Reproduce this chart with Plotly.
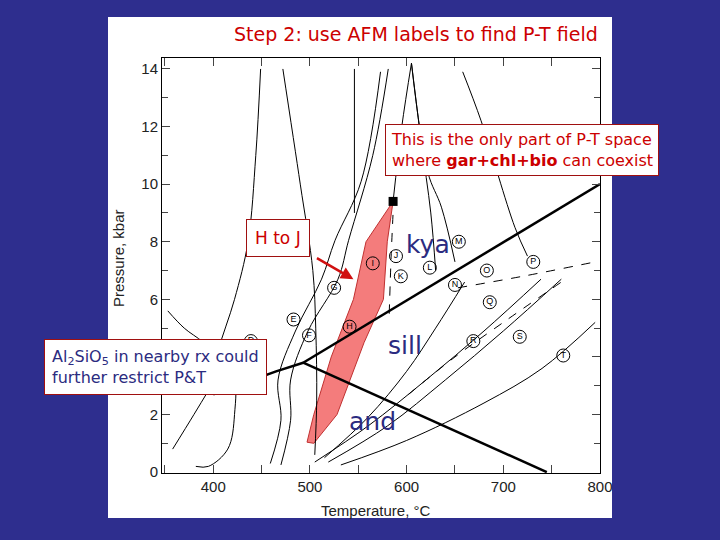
import plotly.graph_objects as go

# Red field (gar+chl+bio)
field_T = [497, 504, 522, 545, 558, 586, 580, 576, 556, 528, 504, 497]
field_P = [1.04, 2.0, 4.0, 6.0, 8.0, 9.4, 8.0, 6.0, 4.5, 2.0, 1.0, 1.04]

# Al2SiO5 lines
ky_sill_T = [493, 800]; ky_sill_P = [3.8, 10.0]
and_sill_T = [493, 745]; and_sill_P = [3.8, 0.0]
ky_and_T = [400, 465, 493]; ky_and_P = [2.7, 3.5, 3.8]

# Thin reaction curves (T list, P list)
curves = [
    ([449, 444, 436, 422, 405, 398], [14, 11, 8, 6, 4.2, 3.0]),
    ([398, 380, 358], [3.0, 2.0, 0.8]),
    ([353, 370, 390, 420, 422, 415, 395, 382], [5.6, 5.0, 4.5, 3.5, 2.0, 0.8, 0.2, 0.2]),
    ([472, 490, 503, 506, 507, 505], [14, 10, 7, 5, 2.5, 0.6]),
    ([459, 470, 467, 485, 512, 526, 553, 573], [0.3, 1.8, 3.2, 4.9, 6.7, 8.05, 10.1, 13.9]),
    ([470, 480, 480, 498, 529, 540, 565, 581], [0.25, 1.8, 3.2, 4.9, 6.7, 8.05, 11, 14]),
    ([605, 595, 586], [14.2, 12.0, 9.4]),
    ([546, 546], [14, 9.0]),
    ([605, 622, 636, 650], [14.2, 10.4, 9.2, 7.3]),
    ([605, 615, 625, 630], [14.2, 11.5, 9.0, 7.0]),
    ([658, 677, 712, 725], [13.9, 12.2, 8.5, 7.5]),
    ([505, 560, 620, 680, 739], [0.35, 1.6, 3.2, 4.9, 6.7]),
    ([519, 580, 640, 700, 760], [0.35, 1.6, 3.2, 4.9, 6.7]),
    ([532, 600, 680, 740, 795], [0.25, 1.1, 2.4, 3.6, 5.2]),
    ([515, 560, 600, 630, 660], [0.5, 1.9, 3.5, 5.0, 6.6]),
]
dashed = [
    ([653, 720, 795], [6.4, 6.8, 7.3]),
    ([602, 650, 700, 760], [2.7, 4.0, 5.2, 6.6]),
    ([582, 584, 586], [5.5, 7.5, 9.0]),
]

# Circled field letters
letters = ["D", "E", "F", "G", "H", "I", "J", "K", "L", "M", "N", "O", "P", "Q", "R", "S", "T"]
letter_T = [439, 483, 499, 525, 541, 565, 589, 594, 624, 654, 650, 683, 731, 686, 669, 717, 762]
letter_P = [4.55, 5.3, 4.75, 6.4, 5.05, 7.25, 7.5, 6.8, 7.1, 8.0, 6.5, 7.0, 7.3, 5.9, 4.55, 4.7, 4.05]

x_ticks = [400, 500, 600, 700, 800]
y_ticks = [0, 2, 4, 6, 8, 10, 12, 14]

L, R, T, B = 162, 600, 58, 473
def px(x): return (x - L) / (R - L)
def py(y): return (B - y) / (B - T)

fig = go.Figure()
fig.add_trace(go.Scatter(x=field_T, y=field_P, fill="toself", fillcolor="#f47c7c",
                         line=dict(color="#c03030", width=1), mode="lines", hoverinfo="skip"))
for xs, ys in curves:
    fig.add_trace(go.Scatter(x=xs, y=ys, mode="lines", line=dict(color="black", width=1, shape="spline")))
for xs, ys in dashed:
    fig.add_trace(go.Scatter(x=xs, y=ys, mode="lines", line=dict(color="black", width=1, dash="dash", shape="spline")))
for xs, ys in [(ky_sill_T, ky_sill_P), (and_sill_T, and_sill_P), (ky_and_T, ky_and_P)]:
    fig.add_trace(go.Scatter(x=xs, y=ys, mode="lines", line=dict(color="black", width=2.5)))
fig.add_trace(go.Scatter(x=letter_T, y=letter_P, mode="markers+text", text=letters,
                         textposition="middle center",
                         textfont=dict(size=9, color="black", family="Liberation Sans"),
                         marker=dict(size=13, color="rgba(255,255,255,0)", line=dict(color="black", width=1))))
fig.add_trace(go.Scatter(x=[586], y=[9.4], mode="markers",
                         marker=dict(symbol="square", size=9, color="black")))

ann = []
navy = "#2b2b80"
red = "#cc0000"
for txt, T_, P_ in [("kya", 622, 7.9), ("sill", 598, 4.4), ("and", 565, 1.75)]:
    ann.append(dict(x=T_, y=P_, xref="x", yref="y", text=txt, showarrow=False,
                    font=dict(size=25, color=navy, family="DejaVu Sans")))
ann.append(dict(x=px(416), y=py(34), xref="paper", yref="paper", text="Step 2: use AFM labels to find P-T field",
                showarrow=False, font=dict(size=19, color=red, family="DejaVu Sans")))
ann.append(dict(x=px(522), y=py(150), xref="paper", yref="paper",
                text="This is the only part of P-T space<br>where <b>gar+chl+bio</b> can coexist",
                showarrow=False, align="left", bgcolor="white", bordercolor="#a01010", borderwidth=1,
                borderpad=5, font=dict(size=16, color=red, family="DejaVu Sans")))
ann.append(dict(x=px(278), y=py(238), xref="paper", yref="paper", text="H to J", showarrow=False,
                bgcolor="white", bordercolor="#a01010", borderwidth=1, borderpad=8,
                font=dict(size=17, color=red, family="DejaVu Sans")))
ann.append(dict(x=px(155), y=py(367), xref="paper", yref="paper",
                text="Al<sub>2</sub>SiO<sub>5</sub> in nearby rx could<br>further restrict P&T",
                showarrow=False, align="left", bgcolor="white", bordercolor="#a01010", borderwidth=1,
                borderpad=7, font=dict(size=16, color=navy, family="DejaVu Sans")))
ann.append(dict(x=545, y=6.7, xref="x", yref="y", ax=-38, ay=-22,
                showarrow=True, arrowhead=2, arrowsize=1, arrowwidth=2.5, arrowcolor="#d01010", text=""))
ann.append(dict(x=px(118), y=py(258), xref="paper", yref="paper", text="Pressure, kbar", textangle=-90,
                showarrow=False, font=dict(size=15, color="#222", family="Liberation Sans")))
ann.append(dict(x=px(376), y=py(510), xref="paper", yref="paper", text="Temperature, °C",
                showarrow=False, font=dict(size=15, color="#222", family="Liberation Sans")))
for a in ann:
    if a.get("text"):
        a["xanchor"] = "center"
        a["yanchor"] = "middle"

fig.update_layout(
    width=720, height=540, showlegend=False,
    paper_bgcolor="#2e2e8e", plot_bgcolor="white",
    margin=dict(l=L, r=720 - R, t=T, b=540 - B),
    annotations=ann,
    shapes=[dict(type="rect", xref="paper", yref="paper", x0=px(108), x1=px(612), y0=py(518), y1=py(17),
                 fillcolor="white", line=dict(width=0), layer="below")],
    xaxis=dict(range=[347, 800], tickvals=x_ticks, ticks="inside", ticklen=8, showgrid=False,
               showline=True, linecolor="black", mirror="ticks", zeroline=False,
               minor=dict(dtick=50, tick0=0, ticks="inside", ticklen=8),
               tickfont=dict(size=15, color="#222", family="Liberation Sans")),
    yaxis=dict(range=[-0.03, 14.38], tickvals=y_ticks, ticks="inside", ticklen=8, showgrid=False,
               showline=True, linecolor="black", mirror="ticks", zeroline=False,
               minor=dict(dtick=1, tick0=0, ticks="inside", ticklen=6),
               tickfont=dict(size=15, color="#222", family="Liberation Sans")),
)
fig.write_html("out.html", config={"displayModeBar": False},
               post_script="document.body.style.margin='0';document.body.style.overflow='hidden';")
